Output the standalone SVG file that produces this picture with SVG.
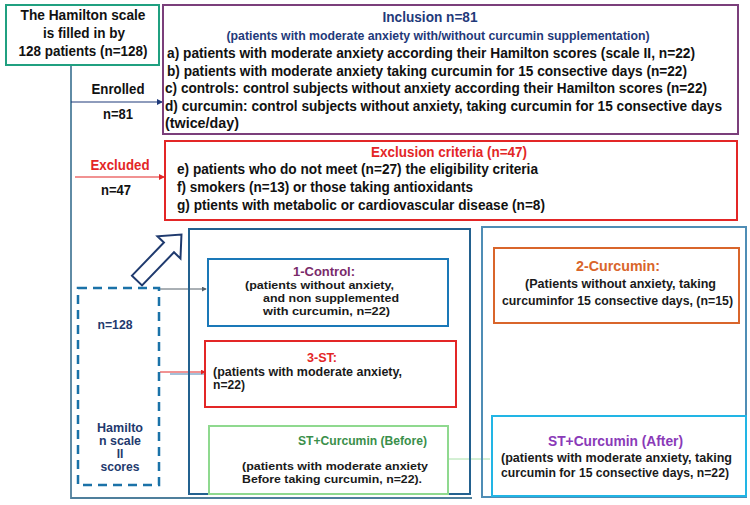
<svg xmlns="http://www.w3.org/2000/svg" width="750" height="505" viewBox="0 0 750 505">
<defs>
<style>
text{font-family:"Liberation Sans",Arial,sans-serif;font-weight:bold;}
.t14{font-size:15px;fill:#111;}
.inc{font-size:14px;fill:#111;}
.t11{font-size:12px;fill:#1a1a1a;}
.sm{font-size:11.5px;fill:#1a1a1a;}
.navy{fill:#1f3a7a;}
.red{fill:#e32626;}
.box{fill:none;stroke-width:2;}
</style>
<marker id="ah" viewBox="0 0 6 6" refX="5" refY="3" markerWidth="5" markerHeight="5" orient="auto"><path d="M0,0L6,3L0,6z" fill="#1f3a7a"/></marker>
<marker id="ahr" viewBox="0 0 6 6" refX="5" refY="3" markerWidth="5" markerHeight="5" orient="auto"><path d="M0,0L6,3L0,6z" fill="#e32626"/></marker>
<marker id="ahg" viewBox="0 0 6 6" refX="5" refY="3" markerWidth="5" markerHeight="5" orient="auto"><path d="M0,0L6,3L0,6z" fill="#55606a"/></marker>
</defs>
<rect width="750" height="505" fill="#fff"/>

<g id="connectors">
<path d="M71,64V498H472" fill="none" stroke="#4f7f9c" stroke-width="1.8"/>
<line x1="71" y1="102" x2="162" y2="102" stroke="#1f3a7a" stroke-width="1.2" marker-end="url(#ah)"/>
<line x1="75" y1="177" x2="164" y2="177" stroke="#e32626" stroke-width="1.2" marker-end="url(#ahr)"/>
<line x1="159" y1="289" x2="206" y2="289" stroke="#55606a" stroke-width="1" marker-end="url(#ahg)"/>
<line x1="170" y1="374" x2="205" y2="374" stroke="#4a80b0" stroke-width="1"/>
<line x1="160" y1="372" x2="205" y2="372" stroke="#e32626" stroke-width="1" marker-end="url(#ahr)"/>
<line x1="448" y1="459" x2="490" y2="459" stroke="#a8e0a8" stroke-width="1"/>
<polygon points="0,-7 46,-7 46,-16 64,0 46,16 46,7 0,7" transform="translate(137,280.5) rotate(-46)" fill="#fff" stroke="#1f3a6e" stroke-width="2" stroke-linejoin="miter"/>
</g>

<g id="start">
<rect x="6" y="5" width="153" height="60" class="box" stroke="#20a080"/>
<text x="83" y="20" text-anchor="middle" class="t14" textLength="125" lengthAdjust="spacingAndGlyphs">The Hamilton scale</text>
<text x="84" y="38" text-anchor="middle" class="t14" textLength="82" lengthAdjust="spacingAndGlyphs">is filled in by</text>
<text x="83" y="56" text-anchor="middle" class="t14" textLength="129" lengthAdjust="spacingAndGlyphs">128 patients (n=128)</text>
</g>

<g id="enrolled-label">
<text x="118" y="94" text-anchor="middle" class="t14" textLength="53" lengthAdjust="spacingAndGlyphs">Enrolled</text>
<text x="118" y="119" text-anchor="middle" class="t14" textLength="30" lengthAdjust="spacingAndGlyphs">n=81</text>
</g>
<g id="excluded-label">
<text x="120" y="170" text-anchor="middle" class="t14 red" textLength="59" lengthAdjust="spacingAndGlyphs">Excluded</text>
<text x="116" y="195" text-anchor="middle" class="t14" textLength="30" lengthAdjust="spacingAndGlyphs">n=47</text>
</g>

<g id="inclusion">
<rect x="163" y="5" width="575" height="129" class="box" stroke="#7b3f7b"/>
<text x="430" y="22" text-anchor="middle" class="t14 navy" textLength="95" lengthAdjust="spacingAndGlyphs">Inclusion n=81</text>
<text x="438" y="40" text-anchor="middle" style="font-size:12px" class="navy" textLength="423" lengthAdjust="spacingAndGlyphs">(patients with moderate anxiety with/without curcumin supplementation)</text>
<text x="167" y="58" class="inc" textLength="528" lengthAdjust="spacingAndGlyphs">a) patients with moderate anxiety according their Hamilton scores (scale II, n=22)</text>
<text x="167" y="76" class="inc" textLength="520" lengthAdjust="spacingAndGlyphs">b) patients with moderate anxiety taking curcumin for 15  consective days (n=22)</text>
<text x="165" y="93" class="inc" textLength="542" lengthAdjust="spacingAndGlyphs">c) controls: control subjects without anxiety according their Hamilton scores (n=22)</text>
<text x="165" y="111" class="inc" textLength="557" lengthAdjust="spacingAndGlyphs">d) curcumin: control subjects without anxiety, taking curcumin for 15 consective days</text>
<text x="165" y="128" class="t14" textLength="74" lengthAdjust="spacingAndGlyphs">(twice/day)</text>
</g>

<g id="exclusion">
<rect x="165" y="141" width="572" height="79" class="box" stroke="#e32626"/>
<text x="449" y="157" text-anchor="middle" class="t14 red" textLength="156" lengthAdjust="spacingAndGlyphs">Exclusion criteria (n=47)</text>
<text x="177" y="174" class="t14" textLength="361" lengthAdjust="spacingAndGlyphs">e) patients who do not meet (n=27) the eligibility  criteria</text>
<text x="177" y="192" class="t14" textLength="296" lengthAdjust="spacingAndGlyphs">f) smokers (n=13) or those taking antioxidants</text>
<text x="177" y="210" class="t14" textLength="368" lengthAdjust="spacingAndGlyphs">g) ptients with metabolic or cardiovascular disease (n=8)</text>
</g>

<g id="hamilton-dashed">
<rect x="78" y="288" width="81" height="197" fill="none" stroke="#1a72a8" stroke-width="2.5" stroke-dasharray="9,6"/>
<text x="115" y="329" text-anchor="middle" class="t11" style="fill:#1f3a6e" textLength="35" lengthAdjust="spacingAndGlyphs">n=128</text>
<text x="120" y="432" text-anchor="middle" class="t11" style="fill:#1f3a6e" textLength="46" lengthAdjust="spacingAndGlyphs">Hamilto</text>
<text x="120" y="445" text-anchor="middle" class="t11" style="fill:#1f3a6e" textLength="42" lengthAdjust="spacingAndGlyphs">n scale</text>
<text x="120" y="458" text-anchor="middle" class="t11" style="fill:#1f3a6e">II</text>
<text x="120" y="471" text-anchor="middle" class="t11" style="fill:#1f3a6e" textLength="39" lengthAdjust="spacingAndGlyphs">scores</text>
</g>

<g id="group-left">
<rect x="189" y="229" width="281" height="265" class="box" stroke="#23618f"/>
</g>
<g id="group-right">
<rect x="482" y="227" width="264" height="270" class="box" stroke="#4f8db5"/>
</g>

<g id="control">
<rect x="208" y="259" width="240" height="67" class="box" stroke="#1a78b8" stroke-width="2.5"/>
<text x="324" y="276" text-anchor="middle" class="t11" style="fill:#7a2a6a" textLength="62" lengthAdjust="spacingAndGlyphs">1-Control:</text>
<text x="245" y="289" class="sm" textLength="149" lengthAdjust="spacingAndGlyphs">(patients without anxiety,</text>
<text x="263" y="302" class="sm" textLength="136" lengthAdjust="spacingAndGlyphs">and non supplemented</text>
<text x="263" y="315" class="sm" textLength="127" lengthAdjust="spacingAndGlyphs">with  curcumin, n=22)</text>
</g>

<g id="st">
<rect x="205" y="341" width="251" height="66" class="box" stroke="#e32626" stroke-width="2.5"/>
<text x="322" y="362" text-anchor="middle" class="t11" style="fill:#e32626" textLength="30" lengthAdjust="spacingAndGlyphs">3-ST:</text>
<text x="213" y="376" class="t11" textLength="189" lengthAdjust="spacingAndGlyphs">(patients with moderate anxiety,</text>
<text x="213" y="389" class="t11" textLength="32" lengthAdjust="spacingAndGlyphs">n=22)</text>
</g>

<g id="st-before">
<rect x="209" y="426" width="239" height="68" class="box" stroke="#8fd98f"/>
<text x="298" y="445" class="t11" style="fill:#3a8f4a" textLength="129" lengthAdjust="spacingAndGlyphs">ST+Curcumin (Before)</text>
<text x="242" y="470" class="sm" textLength="186" lengthAdjust="spacingAndGlyphs">(patients with moderate anxiety</text>
<text x="242" y="483" class="sm" textLength="180" lengthAdjust="spacingAndGlyphs">Before taking curcumin, n=22).</text>
</g>

<g id="curcumin">
<rect x="494" y="248" width="245" height="75" class="box" stroke="#d9652b" stroke-width="2.5"/>
<text x="618" y="271" text-anchor="middle" style="font-size:15px;fill:#d9652b" textLength="84" lengthAdjust="spacingAndGlyphs">2-Curcumin:</text>
<text x="525" y="288" class="t11" style="font-size:13px" textLength="191" lengthAdjust="spacingAndGlyphs">(Patients without anxiety, taking</text>
<text x="502" y="305" class="t11" style="font-size:13px" textLength="231" lengthAdjust="spacingAndGlyphs">curcuminfor 15 consective days, (n=15)</text>
</g>

<g id="st-after">
<rect x="492" y="416" width="254" height="80" class="box" stroke="#22b5e5" stroke-width="2.5"/>
<text x="548" y="446" style="font-size:15px;fill:#8a3ab8" textLength="135" lengthAdjust="spacingAndGlyphs">ST+Curcumin (After)</text>
<text x="501" y="462" class="t11" style="font-size:13px" textLength="231" lengthAdjust="spacingAndGlyphs">(patients with moderate anxiety, taking</text>
<text x="501" y="477" class="t11" style="font-size:13px" textLength="228" lengthAdjust="spacingAndGlyphs">curcumin for 15 consective days, n=22)</text>
</g>
</svg>
